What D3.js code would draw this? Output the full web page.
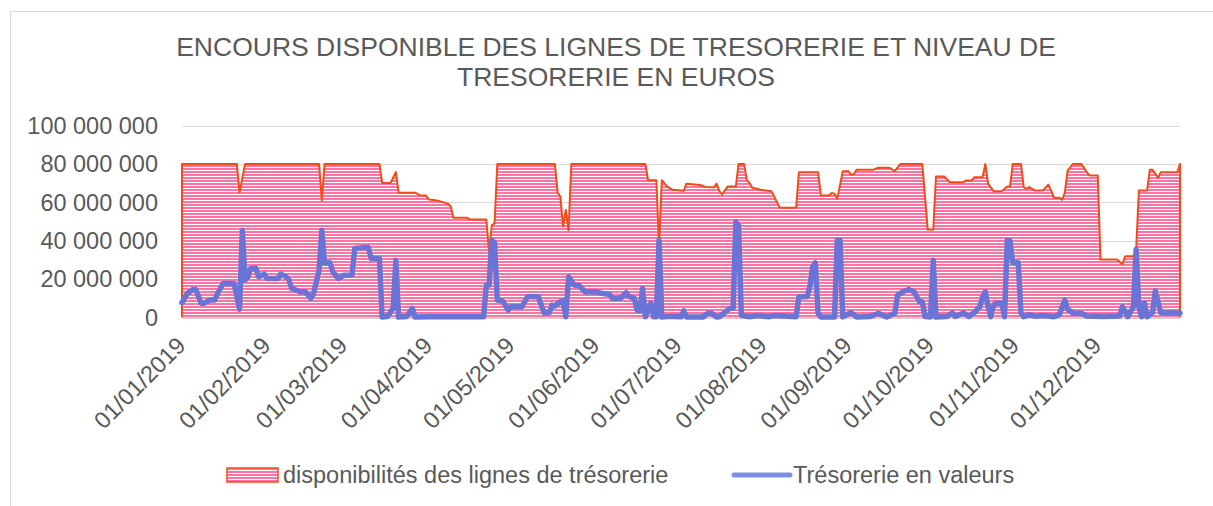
<!DOCTYPE html>
<html>
<head>
<meta charset="utf-8">
<script src="https://cdn.jsdelivr.net/npm/d3@7"></script>
<style>
  html, body { margin: 0; padding: 0; background: #fff; }
  svg text { font-family: "Liberation Sans", Arial, sans-serif; fill: #595959; }
</style>
</head>
<body>
<div class="chart"></div>
<script>
// valeurs en millions d'euros
var dispoDates = ["01/01","21/01","22/01","24/01","20/02","21/02","22/02","14/03","15/03","18/03","20/03","21/03","27/03","29/03","31/03",
    "01/04","04/04","08/04","09/04","10/04","15/04","16/04","22/04","23/04","24/04","25/04","26/04","17/05","18/05","19/05","20/05","21/05","22/05","23/05",
    "19/06","20/06","23/06","24/06","25/06","27/06","29/06","03/07","04/07","09/07","11/07","14/07","15/07","16/07","17/07","19/07","22/07","23/07","25/07",
    "26/07","27/07","28/07","31/07","04/08","07/08","13/08","14/08","21/08","22/08","25/08","26/08","27/08","28/08","30/08","01/09","02/09","03/09","04/09",
    "10/09","12/09","16/09","18/09","20/09","28/09","30/09","02/10","03/10","06/10","08/10","13/10","14/10","16/10","17/10","20/10","21/10","22/10","24/10",
    "27/10","29/10","30/10","31/10","03/11","04/11","05/11","06/11","08/11","11/11","13/11","14/11","15/11","17/11","18/11","19/11","20/11","22/11","25/11",
    "27/11","28/11","01/12","02/12","08/12","10/12","11/12","14/12","15/12","16/12","19/12","20/12","21/12","23/12","24/12","30/12","31/12"];
var dispoValues = [80,80,65,80,80,61,80,80,70,70,75.7,65,65,63.5,63.5,
    61.5,61,59.3,58,52,52,51,51,34,48,49,80,80,65,63,47.5,56,45.5,80,
    80,71.5,71.5,37.6,71.5,68.2,66.5,66,69.7,69,68,67.8,69.7,65.8,64.1,68.2,68.2,80,80,
    71.7,70,67.6,66.5,65.8,57.2,57.1,75.7,75.7,63.6,63.6,64.8,64.5,61.9,76.2,76.2,74.5,74.5,76.9,
    76.9,78,78,76.2,80,80,45.8,45.8,73.4,73.4,70.5,70.5,71.4,71.4,73.1,73.1,80,69.7,65.8,
    65.8,68.2,68.2,80,80,67.9,67,67.9,66.2,66.2,69.2,66.2,62.4,62.4,61.3,65,76.5,80,80,
    75.7,74,74,30.2,30.2,27.8,31.9,31.9,35,66.2,66.2,76.9,76.9,72.8,75.7,75.7,80];

var tresoDates = ["01/01","03/01","05/01","06/01","08/01","09/01","11/01","13/01","14/01","16/01","20/01","22/01","23/01","24/01","25/01","26/01","28/01",
    "29/01","31/01","01/02","05/02","06/02","08/02","09/02","10/02","13/02","15/02","17/02","18/02","20/02","21/02","22/02","24/02","25/02","27/02",
    "01/03","04/03","05/03","08/03","10/03","11/03","14/03","15/03","17/03","19/03","20/03","21/03","24/03","26/03","27/03","01/04","21/04","22/04",
    "23/04","24/04","25/04","26/04","28/04","30/04","01/05","05/05","07/05","11/05","13/05","15/05","16/05","17/05","19/05","20/05","21/05","22/05",
    "24/05","26/05","28/05","01/06","03/06","06/06","07/06","10/06","12/06","13/06","15/06","16/06","17/06","18/06","19/06","21/06","22/06","23/06",
    "24/06","25/06","28/06","02/07","03/07","04/07","10/07","12/07","13/07","15/07","16/07","18/07","19/07","20/07","21/07","22/07","23/07","24/07",
    "27/07","30/07","03/08","05/08","13/08","14/08","17/08","18/08","19/08","20/08","21/08","22/08","27/08","28/08","29/08","30/08","02/09","04/09",
    "09/09","12/09","15/09","18/09","19/09","21/09","23/09","25/09","27/09","28/09","29/09","01/10","02/10","03/10","07/10","09/10","10/10","13/10",
    "15/10","17/10","19/10","20/10","21/10","22/10","23/10","24/10","25/10","27/10","28/10","29/10","30/10","31/10","02/11","03/11","04/11","06/11",
    "08/11","11/11","15/11","17/11","19/11","20/11","22/11","25/11","27/11","03/12","09/12","10/12","12/12","14/12","15/12","16/12","17/12","18/12",
    "19/12","21/12","22/12","24/12","26/12","31/12"];
var tresoValues = [7.7,12.6,14.6,14.6,7.4,7.4,9.1,9.1,12.6,17.7,17.7,4.3,45.4,19.5,21,25.5,25.5,
    21.2,22.6,20.3,20.3,22.6,21.2,19.5,15.2,13.4,13.4,10,12.6,24.7,45.4,28.5,28.5,23.8,20.3,
    22,22,35.9,36.4,36.4,30.7,30.7,0.3,0.5,4.8,29.8,0.2,0.5,4.8,0.2,0.4,0.4,16.9,
    16.9,40.2,39,9.1,8.5,3.9,5.6,5.6,10.8,10.8,2.5,2.5,6.5,6,8.2,8.6,0.4,21.2,
    16.9,16.5,13.4,13.4,12.6,12,10,10,12.9,11,10,3.9,3.5,15.2,0.4,7.4,0.4,0.4,
    40.2,0.2,0.7,0.4,3.5,0.3,0.3,2.4,2.4,0.2,0.4,2.6,3.9,4.8,4.8,49.7,48,1.2,
    0.4,1,0.4,1,0.4,10.8,10.8,16,26.4,28.4,2.2,0.3,0.3,40.2,40.2,0.3,2.6,0.3,
    0.5,2.2,0.3,2.2,11.7,13.4,14.6,13.4,8.2,8.2,0.5,0.3,29.8,0.2,0.5,2.4,0.5,2.4,
    0.5,2.6,5.6,10.8,13.4,5.6,0.4,6.5,7.4,7.4,0.4,40.2,40,28.5,28.5,2.4,0.4,1.5,
    0.7,1,0.4,1.5,9.1,4.3,2.2,2.2,0.8,0.5,0.8,5.6,0.5,5.6,35.4,5.6,0.4,7.7,
    0.4,2.6,13.9,2.6,2.4,2.4];

var yTicks = [0, 20, 40, 60, 80, 100];
var monthTicks = ["01/01","01/02","01/03","01/04","01/05","01/06","01/07","01/08","01/09","01/10","01/11","01/12"];

var titleLines = ["ENCOURS DISPONIBLE DES LIGNES DE TRESORERIE ET NIVEAU DE", "TRESORERIE EN EUROS"];
var legendLabels = ["disponibilités des lignes de trésorerie", "Trésorerie en valeurs"];

const mainGraphic = () => {

    var width = 1213, height = 506;
    var parse = d3.timeParse("%d/%m/%Y");
    var toDate = function(s) { return parse(s + "/2019"); };

    var fr = d3.formatLocale({ decimal: ",", thousands: " ", grouping: [3], currency: ["", " €"] });
    var fmt = fr.format(",");

    var svg = d3.select(".chart")
        .append("svg")
        .attr("width", width)
        .attr("height", height);

    // chart frame
    svg.append("rect")
        .attr("x", 10.5).attr("y", 11.5)
        .attr("width", 1210).attr("height", 505)
        .style("fill", "#fff")
        .style("stroke", "#d9d9d9");

    var defs = svg.append("defs");
    var pat = defs.append("pattern")
        .attr("id", "hstripes")
        .attr("patternUnits", "userSpaceOnUse")
        .attr("width", 6).attr("height", 3);
    pat.append("rect").attr("width", 6).attr("height", 3).style("fill", "#ffffff");
    pat.append("rect").attr("width", 6).attr("height", 2).style("fill", "#ff74a0");

    var x = d3.scaleTime()
        .domain([toDate("01/01"), toDate("31/12")])
        .range([182, 1180]);

    var y = d3.scaleLinear()
        .domain([0, 100e6])
        .range([317.5, 125.5]);

    // title
    svg.selectAll(".title")
        .data(titleLines)
        .enter().append("text")
        .attr("class", "title")
        .attr("x", 616)
        .attr("y", function(d, i) { return 56 + i * 30; })
        .attr("text-anchor", "middle")
        .style("font-size", "26.5px")
        .text(function(d) { return d; });

    // gridlines
    svg.append("g")
        .selectAll("line")
        .data(yTicks)
        .enter().append("line")
        .attr("x1", 182).attr("x2", 1180)
        .attr("y1", function(d) { return Math.round(y(d * 1e6)) + 0.5; })
        .attr("y2", function(d) { return Math.round(y(d * 1e6)) + 0.5; })
        .style("stroke", "#d9d9d9")
        .style("stroke-width", 1);

    // y labels
    svg.append("g")
        .selectAll("text")
        .data(yTicks)
        .enter().append("text")
        .attr("x", 158)
        .attr("y", function(d) { return y(d * 1e6); })
        .attr("dy", "0.35em")
        .attr("text-anchor", "end")
        .style("font-size", "23.5px")
        .text(function(d) { return fmt(d * 1e6); });

    // area of available credit lines
    var dispo = dispoDates.map(function(d, i) { return { date: toDate(d), v: dispoValues[i] * 1e6 }; });
    var area = d3.area()
        .x(function(d) { return x(d.date); })
        .y0(y(0))
        .y1(function(d) { return y(d.v); });

    svg.append("path")
        .datum(dispo)
        .attr("d", area)
        .style("fill", "url(#hstripes)")
        .style("stroke", "none");

    var outline = [{ date: dispo[0].date, v: 0 }].concat(dispo, [{ date: dispo[dispo.length - 1].date, v: 0 }]);
    svg.append("path")
        .datum(outline)
        .attr("d", d3.line().x(function(d) { return x(d.date); }).y(function(d) { return y(d.v); }))
        .style("fill", "none")
        .style("stroke", "#ee4d1a")
        .style("stroke-width", 2)
        .style("stroke-linejoin", "round");

    // axis line
    svg.append("line")
        .attr("x1", 182).attr("x2", 1180)
        .attr("y1", 318).attr("y2", 318)
        .style("stroke", "#d9c9c6")
        .style("stroke-width", 1.5);

    // treasury line
    var treso = tresoDates.map(function(d, i) { return { date: toDate(d), v: tresoValues[i] * 1e6 }; });
    svg.append("path")
        .datum(treso)
        .attr("d", d3.line().x(function(d) { return x(d.date); }).y(function(d) { return y(d.v); }))
        .style("fill", "none")
        .style("stroke", "#6a74d6")
        .style("stroke-width", 5.5)
        .style("stroke-linejoin", "round")
        .style("stroke-linecap", "round");

    // x labels
    var xfmt = d3.timeFormat("%d/%m/%Y");
    svg.append("g")
        .selectAll("text")
        .data(monthTicks.map(toDate))
        .enter().append("text")
        .attr("transform", function(d) { return "translate(" + (x(d) + 5) + ",347) rotate(-45)"; })
        .attr("text-anchor", "end")
        .style("font-size", "23.5px")
        .text(function(d) { return xfmt(d); });

    // legend
    var lg = svg.append("g");
    lg.append("rect")
        .attr("x", 227).attr("y", 468)
        .attr("width", 51).attr("height", 14)
        .style("fill", "url(#hstripes)")
        .style("stroke", "#ee4d1a")
        .style("stroke-width", 1.5);
    lg.append("text")
        .attr("x", 283).attr("y", 483)
        .style("font-size", "23.5px")
        .text(legendLabels[0]);
    lg.append("line")
        .attr("x1", 734).attr("x2", 790)
        .attr("y1", 475).attr("y2", 475)
        .style("stroke", "#7f8fe0")
        .style("stroke-width", 5)
        .style("stroke-linecap", "round");
    lg.append("text")
        .attr("x", 793).attr("y", 483)
        .style("font-size", "23.5px")
        .text(legendLabels[1]);
};

mainGraphic();
</script>
</body>
</html>
